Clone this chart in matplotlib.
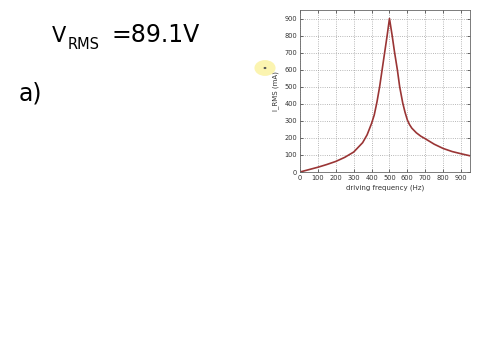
import numpy as np
import matplotlib.pyplot as plt
from matplotlib.patches import Circle

# readings taken off the resonance curve
freq = [0, 50, 100, 150, 200, 250, 300, 350, 375, 400, 415, 430, 445, 459, 473, 487, 500,
        515, 528, 544, 557, 574, 587, 600, 612, 625, 650, 675, 700, 750, 800, 850, 900, 950]
irms = [0, 14, 28, 44, 62, 86, 117, 172, 218, 285, 335, 410, 500, 600, 700, 800, 900,
        800, 705, 600, 500, 405, 350, 305, 278, 257, 230, 210, 195, 163, 138, 120, 107, 95]

xticks = [0, 100, 200, 300, 400, 500, 600, 700, 800, 900]
yticks = [0, 100, 200, 300, 400, 500, 600, 700, 800, 900]

fig = plt.figure(figsize=(4.8, 3.6), dpi=100)
fig.patch.set_facecolor('white')

# handwritten notes
fig.text(52 / 480, 1 - 42 / 360, 'V', fontsize=15, color='black')
fig.text(68 / 480, 1 - 49 / 360, 'RMS', fontsize=10.5, color='black')
fig.text(112 / 480, 1 - 42 / 360, '=89.1V', fontsize=17, color='black')
fig.text(19 / 480, 1 - 101 / 360, 'a)', fontsize=17, color='black')

# cursor marker
fig.patches.append(Circle((265 / 480, 1 - 68 / 360), 0.022, transform=fig.transFigure,
                          facecolor='#fbf3a8', edgecolor='none', alpha=0.9))
fig.patches.append(Circle((265 / 480, 1 - 68 / 360), 0.003, transform=fig.transFigure,
                          facecolor='#555555', edgecolor='none'))

ax = fig.add_axes([300 / 480, 1 - 172 / 360, 170 / 480, 162 / 360])
ax.plot(freq, irms, color='#9a3535', lw=1.2)
ax.set_xlim(0, 950)
ax.set_ylim(0, 950)
ax.set_xticks(xticks)
ax.set_yticks(yticks)
ax.tick_params(labelsize=4.8, length=2, width=0.5, direction='in',
               top=True, right=True, pad=2, colors='#333333')
ax.grid(True, linestyle=':', color='#a0a0a0', lw=0.6)
for s in ax.spines.values():
    s.set_color('#666666')
    s.set_linewidth(0.6)
ax.set_xlabel('driving frequency (Hz)', fontsize=5, labelpad=3, color='#333333')
ax.set_ylabel('I_RMS (mA)', fontsize=5, labelpad=4, color='#333333')

plt.savefig('out.png', dpi=100)
